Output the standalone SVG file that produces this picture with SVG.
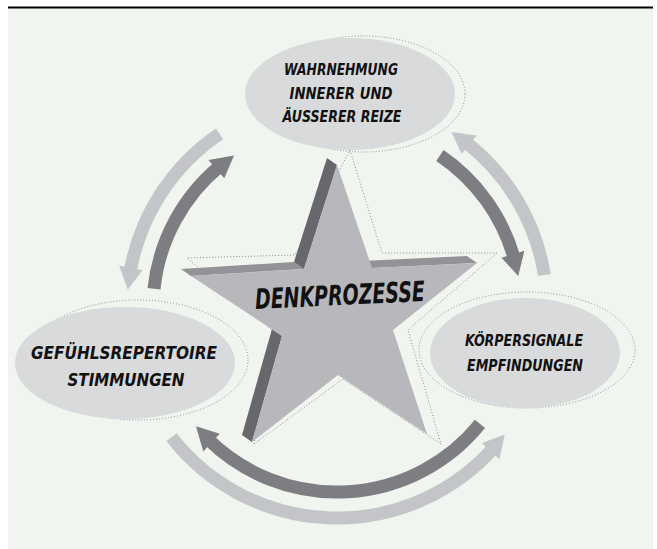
<svg xmlns="http://www.w3.org/2000/svg" width="657" height="549" viewBox="0 0 657 549">
  <style>
    .dots { fill: none; stroke: #8c8c8c; stroke-width: 1; stroke-dasharray: 1 2; }
    .bubble { fill: #d9dadb; }
    .dark { fill: none; stroke: #7e7d82; stroke-width: 13; }
    .dark-head { fill: #7e7d82; }
    .light { fill: none; stroke: #c4c5c9; stroke-width: 13; }
    .light-head { fill: #c4c5c9; }
    .label { font-family: "Liberation Sans Narrow", "DejaVu Sans Condensed", "Liberation Sans", sans-serif; font-weight: bold; font-style: italic; fill: #111; text-anchor: middle; }
  </style>

  <!-- panel -->
  <rect x="8" y="8.5" width="645" height="541" fill="#f1f5ef"/>
  <line x1="8" y1="7.5" x2="653" y2="7.5" stroke="#000" stroke-width="2"/>

  <!-- dotted halos -->
  <g id="halos">
    <ellipse class="dots" cx="363" cy="94" rx="102" ry="58"/>
    <ellipse class="dots" cx="138" cy="360" rx="110" ry="60"/>
    <ellipse class="dots" cx="527" cy="350" rx="108" ry="58"/>
    <polygon class="dots" points="350,150 382,253 497,253 408,330 441,444 343,379 254,444 272,330 187,258 295,255"/>
  </g>

  <!-- cycle arrows -->
  <g id="connectors">
    <path class="dark" d="M154.0,288.8 A184,184 0 0 1 220.0,166.0"/>
    <polygon class="dark-head" points="224.2,178.2 234.1,155.5 208.4,160.1"/>
    <path class="dark" d="M439.9,155.5 A184,184 0 0 1 514.3,258.8"/>
    <polygon class="dark-head" points="501.5,257.7 518.2,276.1 524.4,250.7"/>
    <path class="dark" d="M480.0,423.8 A184,184 0 0 1 208.0,439.2"/>
    <polygon class="dark-head" points="219.7,433.8 196.0,426.3 203.3,451.4"/>

    <path class="light" d="M219.6,133.9 A210,210 0 0 0 129.9,273.3"/>
    <polygon class="light-head" points="142.6,270.2 127.8,289.7 119.1,265.6"/>
    <path class="light" d="M544.4,275.1 A210,210 0 0 0 464.8,141.4"/>
    <polygon class="light-head" points="461.6,154.1 451.4,131.9 476.7,135.5"/>
    <path class="light" d="M171.5,437.3 A210,210 0 0 0 494.3,447.1"/>
    <polygon class="light-head" points="481.8,443.0 504.7,434.4 499.4,459.4"/>
  </g>

  <!-- perception bubble -->
  <g id="node-wahrnehmung">
    <ellipse class="bubble" cx="350" cy="94" rx="105" ry="56"/>
    <text class="label" x="341" y="75" font-size="16.5" textLength="114" lengthAdjust="spacingAndGlyphs">WAHRNEHMUNG</text>
    <text class="label" x="341" y="98.5" font-size="16.5" textLength="103" lengthAdjust="spacingAndGlyphs">INNERER UND</text>
    <text class="label" x="342" y="122" font-size="16.5" textLength="119" lengthAdjust="spacingAndGlyphs">ÄUSSERER REIZE</text>
  </g>

  <!-- feelings bubble -->
  <g id="node-gefuehle">
    <ellipse class="bubble" cx="125" cy="363" rx="110" ry="56"/>
    <text class="label" x="124" y="359" font-size="17.5" textLength="186" lengthAdjust="spacingAndGlyphs">GEFÜHLSREPERTOIRE</text>
    <text class="label" x="126" y="386" font-size="17.5" textLength="117" lengthAdjust="spacingAndGlyphs">STIMMUNGEN</text>
  </g>

  <!-- body signals bubble -->
  <g id="node-koerper">
    <ellipse class="bubble" cx="525" cy="353" rx="95" ry="55"/>
    <text class="label" x="524" y="346" font-size="16.5" textLength="118" lengthAdjust="spacingAndGlyphs">KÖRPERSIGNALE</text>
    <text class="label" x="525" y="371" font-size="16.5" textLength="116" lengthAdjust="spacingAndGlyphs">EMPFINDUNGEN</text>
  </g>

  <!-- central star with extruded edges -->
  <g id="node-denkprozesse">
    <polygon fill="#939297" points="304,269 191,276 181,269 294,262"/>
    <polygon fill="#68676c" points="337,165 304,269 294,262 327,158"/>
    <polygon fill="#68676c" points="282,336 252,442 242,435 272,329"/>
    <polygon fill="#939297" points="372,268 477,263 467,256 362,261"/>
    <polygon fill="#b8b8bc" points="337,165 372,268 477,263 393,330 427,434 338,375 252,442 282,336 191,276 304,269"/>
    <text class="label" x="340" y="305" font-size="28" textLength="170" lengthAdjust="spacingAndGlyphs" transform="rotate(-2.7 340 298)">DENKPROZESSE</text>
  </g>
</svg>
